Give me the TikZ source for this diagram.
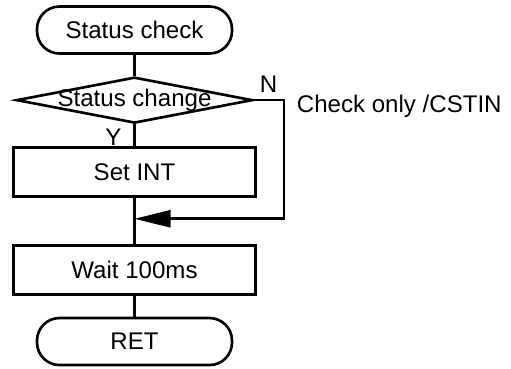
\documentclass[tikz,border=0pt]{standalone}
\usepackage{fontspec}
\setmainfont{Liberation Sans}
\usepackage{xcolor}
\usepackage{tikz}
\usetikzlibrary{positioning,arrows.meta,shapes.geometric,calc}
\definecolor{inkblack}{RGB}{0,0,0}
\newcommand{\flowfont}{\fontsize{13.7}{16}\selectfont}
\tikzset{
  term/.style  ={rectangle, rounded corners=0.45cm, draw=inkblack, line width=1.5pt,
                 minimum width=3.9cm, minimum height=0.94cm, font=\flowfont},
  proc/.style  ={rectangle, draw=inkblack, line width=1.5pt,
                 minimum width=4.84cm, minimum height=0.98cm, font=\flowfont},
  decide/.style={diamond, draw=inkblack, line width=1.5pt, inner sep=0pt,
                 minimum width=4.72cm, minimum height=0.92cm, font=\flowfont},
  lbl/.style   ={inner sep=1pt, font=\flowfont},
  link/.style  ={line width=1.5pt, draw=inkblack},
  merge/.style ={-{Triangle[length=0.72cm, width=0.34cm]}, line width=1.5pt, draw=inkblack},
}

\begin{document}
\begin{tikzpicture}
\useasboundingbox (0,0) rectangle (10.22,-7.36);
\node[term] (start) at (2.69,-0.6) {Status check};
\node[decide, below=0.42cm of start] (chg) {\makebox[0pt]{Status change}};
\node[proc, below=0.44cm of chg] (setint) {Set INT};
\node[proc, below=0.92cm of setint] (wait) {Wait 100ms};
\node[term, below=0.42cm of wait] (ret) {RET};
% branch labels
\node[lbl, above right=0.12cm and 0.08cm of chg.east] (nlbl) {N};
\node[lbl, below left=0.04cm and 0.22cm of chg.south] (ylbl) {Y};
\coordinate[right=0.6cm of chg.east] (ncorner);
\coordinate (join) at ($(setint.south)!0.45!(wait.north)$);
\node[lbl, right=0.22cm of ncorner, anchor=west, yshift=-0.12cm] (chk) {Check only /CSTIN};
\draw[link] (start) -- (chg);
\draw[link] (chg) -- (setint);
\draw[link] (setint) -- (wait);
\draw[link] (wait) -- (ret);
\draw[merge] (chg.east) -- (ncorner) |- (join);
\end{tikzpicture}
\end{document}
